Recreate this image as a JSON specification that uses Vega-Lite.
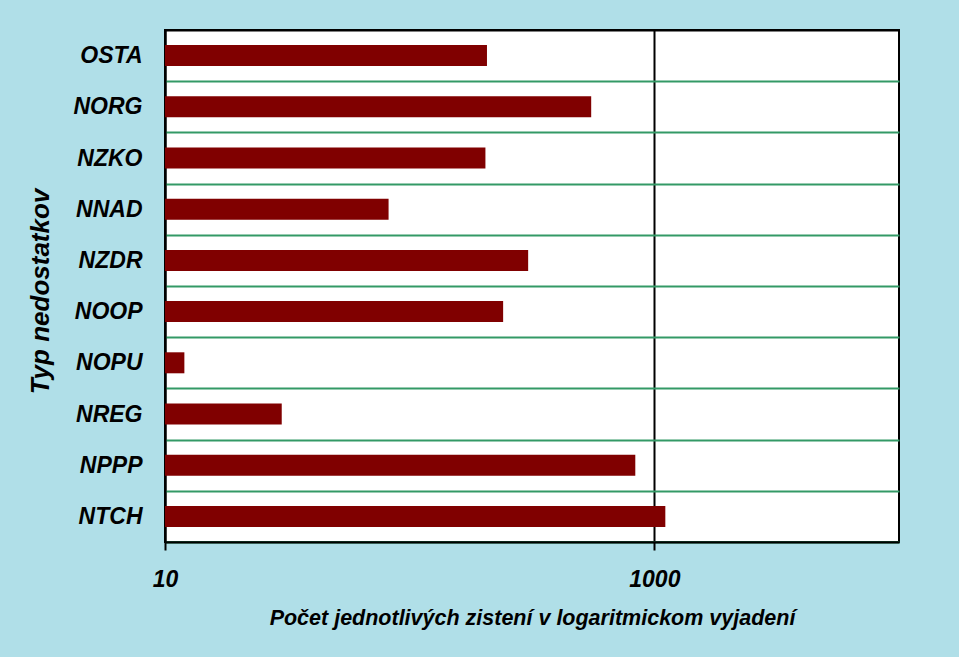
{
  "$schema": "https://vega.github.io/schema/vega-lite/v6.json",
  "width": 734,
  "height": 512,
  "autosize": {"type": "none"},
  "padding": {"left": 165, "top": 30, "right": 60, "bottom": 115},
  "background": "#b0dfe8",
  "config": {
    "view": {"stroke": "#000000", "strokeWidth": 2, "fill": "#ffffff"},
    "font": "Liberation Sans"
  },
  "data": {
    "values": [
      {"typ": "OSTA", "pocet": 207},
      {"typ": "NORG", "pocet": 552},
      {"typ": "NZKO", "pocet": 204},
      {"typ": "NNAD", "pocet": 82},
      {"typ": "NZDR", "pocet": 305},
      {"typ": "NOOP", "pocet": 241},
      {"typ": "NOPU", "pocet": 12},
      {"typ": "NREG", "pocet": 30},
      {"typ": "NPPP", "pocet": 836},
      {"typ": "NTCH", "pocet": 1109}
    ]
  },
  "mark": {"type": "bar", "fill": "#800000", "size": 21},
  "encoding": {
    "y": {
      "field": "typ",
      "type": "nominal",
      "sort": null,
      "scale": {"paddingInner": 0, "paddingOuter": 0},
      "axis": {
        "title": "Typ nedostatkov",
        "titleFont": "Liberation Sans",
        "titleFontSize": 26,
        "titleFontWeight": "bold",
        "titleFontStyle": "italic",
        "titleColor": "#000000",
        "titleAngle": -90,
        "titleX": -125,
        "titleY": 261,
        "titleAlign": "center",
        "titleBaseline": "middle",
        "labelFont": "Liberation Sans",
        "labelFontSize": 23,
        "labelFontWeight": "bold",
        "labelFontStyle": "italic",
        "labelColor": "#000000",
        "labelPadding": 23,
        "ticks": false,
        "domain": true,
        "domainColor": "#000000",
        "domainWidth": 2,
        "grid": true,
        "gridColor": {"condition": {"test": "datum.index === -1 || !!datum.extra", "value": "#000000"}, "value": "#339966"},
        "gridWidth": 2,
        "gridOpacity": 1,
        "tickBand": "extent"
      }
    },
    "x": {
      "field": "pocet",
      "type": "quantitative",
      "stack": null,
      "scale": {"type": "log", "domain": [10, 10000], "nice": false},
      "axis": {
        "title": "Počet jednotlivých zistení v logaritmickom vyjadení",
        "titleFont": "Liberation Sans",
        "titleFontSize": 21.5,
        "titleFontWeight": "bold",
        "titleFontStyle": "italic",
        "titleColor": "#000000",
        "titleY": 76,
        "titleBaseline": "middle",
        "values": [10, 1000],
        "format": "d",
        "labelFont": "Liberation Sans",
        "labelFontSize": 23,
        "labelFontWeight": "bold",
        "labelFontStyle": "italic",
        "labelColor": "#000000",
        "labelBaseline": "middle",
        "labelPadding": 29,
        "labelFlush": false,
        "ticks": true,
        "tickSize": 8,
        "tickColor": "#000000",
        "tickWidth": 2,
        "domain": true,
        "domainColor": "#000000",
        "domainWidth": 2,
        "grid": true,
        "gridColor": "#000000",
        "gridWidth": 2,
        "gridOpacity": 1,
        "zindex": 0
      }
    },
    "x2": {"datum": 10}
  }
}
